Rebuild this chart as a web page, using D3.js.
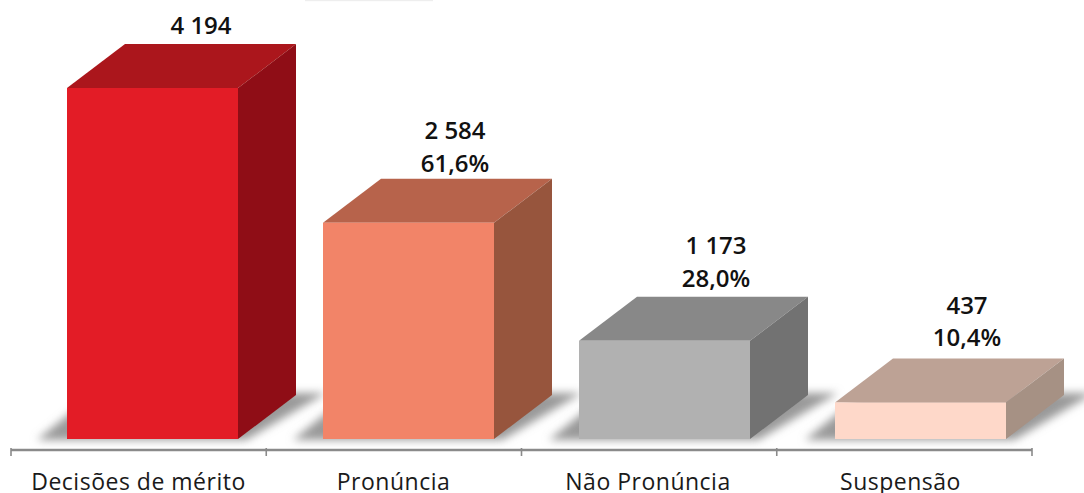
<!DOCTYPE html>
<html><head><meta charset="utf-8">
<script src="https://cdnjs.cloudflare.com/ajax/libs/d3/7.8.5/d3.min.js"></script>
<style>html,body{margin:0;padding:0;background:#fff}svg{display:block}</style>
</head><body><svg id="c" width="1084" height="493"></svg>
<script>
const categories = ["Decisões de mérito","Pronúncia","Não Pronúncia","Suspensão"];
const values = [4194,2584,1173,437];
const valueLabels = ["4 194","2 584","1 173","437"];
const shareLabels = ["","61,6%","28,0%","10,4%"];
const frontColors = ["#e31f26","#f28468","#b1b1b1","#fed8c9"];
const topColors = ["#ab141a","#b7644c","#888888","#bda295"];
const sideColors = ["#8f1014","#97553e","#727272","#a69184"];

const svg = d3.select("#c");
const baseY=439, axisY=450, dx=58, dy=44;
const font = "'Open Sans','Noto Sans',sans-serif";
const x = d3.scaleBand().domain(categories).range([11,1032]);
const xBar = d3.scaleBand().domain(categories).range([67,1091]);
const y = d3.scaleLinear().domain([0,4194]).range([baseY,88]);
const barW = 171;

const defs = svg.append("defs");
const f = defs.append("filter").attr("id","blur").attr("x","-30%").attr("y","-60%").attr("width","160%").attr("height","220%");
f.append("feGaussianBlur").attr("stdDeviation",4);
const f2 = defs.append("filter").attr("id","soft").attr("x","-2%").attr("y","-200%").attr("width","104%").attr("height","500%");
f2.append("feGaussianBlur").attr("stdDeviation",0.7);
const f3 = defs.append("filter").attr("id","edge").attr("x","-5%").attr("y","-5%").attr("width","110%").attr("height","110%");
f3.append("feGaussianBlur").attr("stdDeviation",0.45);

svg.append("rect").attr("x",305).attr("y",0).attr("width",128).attr("height",1.2).attr("fill","#eeeeee");

const poly = p => p.map(q=>q.join(",")).join(" ");
// floor shadows
svg.append("g").selectAll("polygon").data(categories).join("polygon")
  .attr("points",c=>{const l=xBar(c), r=l+barW;
    return poly([[l-30,baseY+1],[r+8,baseY+1],[r+dx+30,baseY-dy-2],[l+28,baseY-dy-2]]);})
  .attr("fill","#9a9a9a").attr("filter","url(#blur)");

const g = svg.append("g").selectAll("g").data(categories).join("g").attr("filter","url(#edge)");
g.append("polygon").attr("fill",(c,i)=>topColors[i])
  .attr("points",(c,i)=>{const l=xBar(c),r=l+barW,t=y(values[i]);
    return poly([[l,t],[l+dx,t-dy],[r+dx,t-dy],[r,t]]);});
g.append("polygon").attr("fill",(c,i)=>sideColors[i])
  .attr("points",(c,i)=>{const r=xBar(c)+barW,t=y(values[i]);
    return poly([[r,t],[r+dx,t-dy],[r+dx,baseY-dy],[r,baseY]]);});
g.append("rect").attr("fill",(c,i)=>frontColors[i])
  .attr("x",c=>xBar(c)).attr("width",barW)
  .attr("y",(c,i)=>y(values[i])).attr("height",(c,i)=>baseY-y(values[i]));

// axis
const ax = svg.append("g").attr("filter","url(#soft)").attr("stroke","#8a8a8a");
ax.append("line").attr("x1",11).attr("x2",1032).attr("y1",axisY).attr("y2",axisY).attr("stroke-width",2.4);
const tickVals = categories.map(c=>x(c)).concat([x.range()[1]]);
ax.selectAll("line.t").data(tickVals).join("line").attr("class","t")
  .attr("x1",d=>d).attr("x2",d=>d).attr("y1",axisY-2).attr("y2",axisY+6).attr("stroke-width",1.6);

// category labels
svg.append("g").selectAll("text").data(categories).join("text")
  .attr("x",(c,i)=>[138.5,393.5,648,900.5][i]).attr("y",489.5)
  .attr("text-anchor","middle").attr("font-family",font).attr("font-size",23)
  .attr("letter-spacing",0.5).attr("fill","#1a1a1a").text(c=>c);

// value labels
const labelX = [201,455,716,967];
const valueY = [34,139,254,314];
const shareY = [null,172,287,346];
const lab = svg.append("g").attr("font-family",font).attr("font-size",24).attr("font-weight",600)
  .attr("text-anchor","middle").attr("fill","#111");
categories.forEach((c,i)=>{
  lab.append("text").attr("x",labelX[i]).attr("y",valueY[i]).text(valueLabels[i]);
  if(shareLabels[i]) lab.append("text").attr("x",labelX[i]).attr("y",shareY[i]).text(shareLabels[i]);
});
</script></body></html>
